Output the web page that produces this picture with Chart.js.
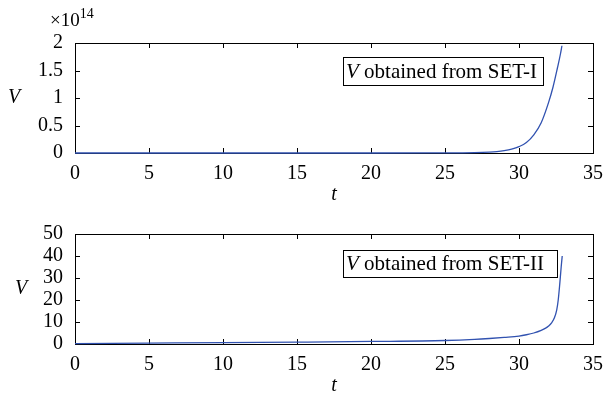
<!DOCTYPE html>
<html>
<head>
<meta charset="utf-8">
<script src="https://cdn.jsdelivr.net/npm/chart.js@4.4.1/dist/chart.umd.min.js"></script>
<style>
  html, body { margin: 0; padding: 0; background: #fff; }
  #wrap { position: relative; width: 612px; height: 408px; }
  .box { position: absolute; left: 0; width: 612px; height: 204px; }
</style>
</head>
<body>
<div id="wrap">
  <div class="box" style="top:0"><canvas id="top"></canvas></div>
  <div class="box" style="top:204px"><canvas id="bottom"></canvas></div>
</div>
<script>
// SET-I, V in units of 1e14
const t1 = [0, 5, 10, 15, 20, 24, 26, 27, 28, 28.5, 29, 29.5, 30, 30.5, 31, 31.5, 32, 32.3, 32.6, 32.8, 32.9];
const v1 = [0, 0, 0, 0, 0, 0.001, 0.003, 0.006, 0.016, 0.026, 0.043, 0.07, 0.115, 0.19, 0.33, 0.55, 0.92, 1.2, 1.55, 1.8, 1.95];

// SET-II
const t2 = [0, 5, 10, 15, 20, 25, 27, 28, 29, 30, 30.5, 31, 31.5, 31.8, 32, 32.2, 32.4, 32.55, 32.65, 32.75, 32.85, 32.92];
const v2 = [0.2, 0.4, 0.6, 0.85, 1.15, 1.6, 2.1, 2.5, 3.0, 3.6, 4.2, 5.0, 6.2, 7.2, 8.2, 9.6, 12, 15.5, 20, 27, 35, 40];

const xTicks = [0, 5, 10, 15, 20, 25, 30, 35];
const yTicks1 = [0, 0.5, 1, 1.5, 2];
const yTicks2 = [0, 10, 20, 30, 40, 50];

const serif = "Liberation Serif";
const lineColor = "#3152b0";

const framePlugin = {
  id: "frame",
  beforeDatasetsDraw(chart, args, opts) {
    const { ctx, chartArea: a, scales } = chart;
    ctx.save();
    ctx.strokeStyle = "#000";
    ctx.lineWidth = 1;
    ctx.strokeRect(a.left + 0.5, a.top + 0.5, a.right - a.left, a.bottom - a.top);
    ctx.beginPath();
    scales.x.ticks.forEach(tk => {
      const px = Math.round(scales.x.getPixelForValue(tk.value)) + 0.5;
      ctx.moveTo(px, a.bottom); ctx.lineTo(px, a.bottom - 5);
      ctx.moveTo(px, a.top); ctx.lineTo(px, a.top + 5);
    });
    scales.y.ticks.forEach(tk => {
      const py = Math.round(scales.y.getPixelForValue(tk.value)) + 0.5;
      ctx.moveTo(a.left, py); ctx.lineTo(a.left + 5, py);
      ctx.moveTo(a.right, py); ctx.lineTo(a.right - 5, py);
    });
    ctx.stroke();
    ctx.restore();
  },
  afterDraw(chart, args, opts) {
    const { ctx, chartArea: a } = chart;
    ctx.save();
    ctx.fillStyle = "#000";
    ctx.textAlign = "center";
    ctx.textBaseline = "middle";
    ctx.font = "italic 20px " + serif;
    ctx.fillText("V", opts.vx, (a.top + a.bottom) / 2);
    ctx.fillText("t", (a.left + a.right) / 2, a.bottom + 42);

    // legend box
    const lx = opts.box[0], ly = opts.box[1], lw = opts.box[2], lh = opts.box[3];
    ctx.fillStyle = "#fff";
    ctx.fillRect(lx, ly, lw, lh);
    ctx.strokeStyle = "#000";
    ctx.strokeRect(lx + 0.5, ly + 0.5, lw, lh);
    ctx.fillStyle = "#000";
    ctx.textAlign = "left";
    ctx.font = "italic 21px " + serif;
    const vW = ctx.measureText("V").width;
    ctx.fillText("V", lx + 3, ly + lh / 2 + 1);
    ctx.font = "21px " + serif;
    ctx.fillText(" obtained from " + opts.set, lx + 3 + vW, ly + lh / 2 + 1);

    if (opts.exp) {
      ctx.textAlign = "left";
      ctx.font = "19px " + serif;
      ctx.fillText("\u00d710", 50, 21);
      const w = ctx.measureText("\u00d710").width;
      ctx.font = "14px " + serif;
      ctx.fillText("14", 50 + w, 14);
    }
    ctx.restore();
  }
};

function makeChart(id, ts, vs, yTicks, yMax, padTop, xHeight, frameOpts) {
  return new Chart(document.getElementById(id), {
    type: "line",
    data: {
      datasets: [{
        data: ts.map((t, i) => ({ x: t, y: vs[i] })),
        borderColor: lineColor,
        borderWidth: 1.3,
        pointRadius: 0,
        cubicInterpolationMode: "monotone",
        clip: 4
      }]
    },
    options: {
      responsive: true, maintainAspectRatio: false, animation: false,
      layout: { padding: { top: padTop, right: 10, left: 0, bottom: 0 } },
      plugins: { legend: { display: false }, tooltip: { enabled: false }, frame: frameOpts },
      scales: {
        x: {
          type: "linear", min: 0, max: 35,
          afterBuildTicks: s => { s.ticks = xTicks.map(v => ({ value: v })); },
          afterFit: s => { s.height = xHeight; },
          grid: { display: false, drawTicks: false },
          border: { display: false },
          ticks: { color: "#000", padding: 9, autoSkip: false, maxRotation: 0,
                   font: { family: serif, size: 20 }, callback: v => String(v) }
        },
        y: {
          min: 0, max: yMax,
          afterBuildTicks: s => { s.ticks = yTicks.map(v => ({ value: v })); },
          afterFit: s => { s.width = 75; },
          grid: { display: false, drawTicks: false },
          border: { display: false },
          ticks: { color: "#000", padding: 12, autoSkip: false,
                   font: { family: serif, size: 20 }, callback: v => String(v) }
        }
      }
    },
    plugins: [framePlugin]
  });
}

makeChart("top", t1, v1, yTicks1, 2, 43, 51,
  { vx: 14, box: [343, 57, 200, 28], set: "SET-I", exp: true });
makeChart("bottom", t2, v2, yTicks2, 50, 30, 64,
  { vx: 21, box: [343, 46, 214, 27], set: "SET-II", exp: false });
</script>
</body>
</html>
